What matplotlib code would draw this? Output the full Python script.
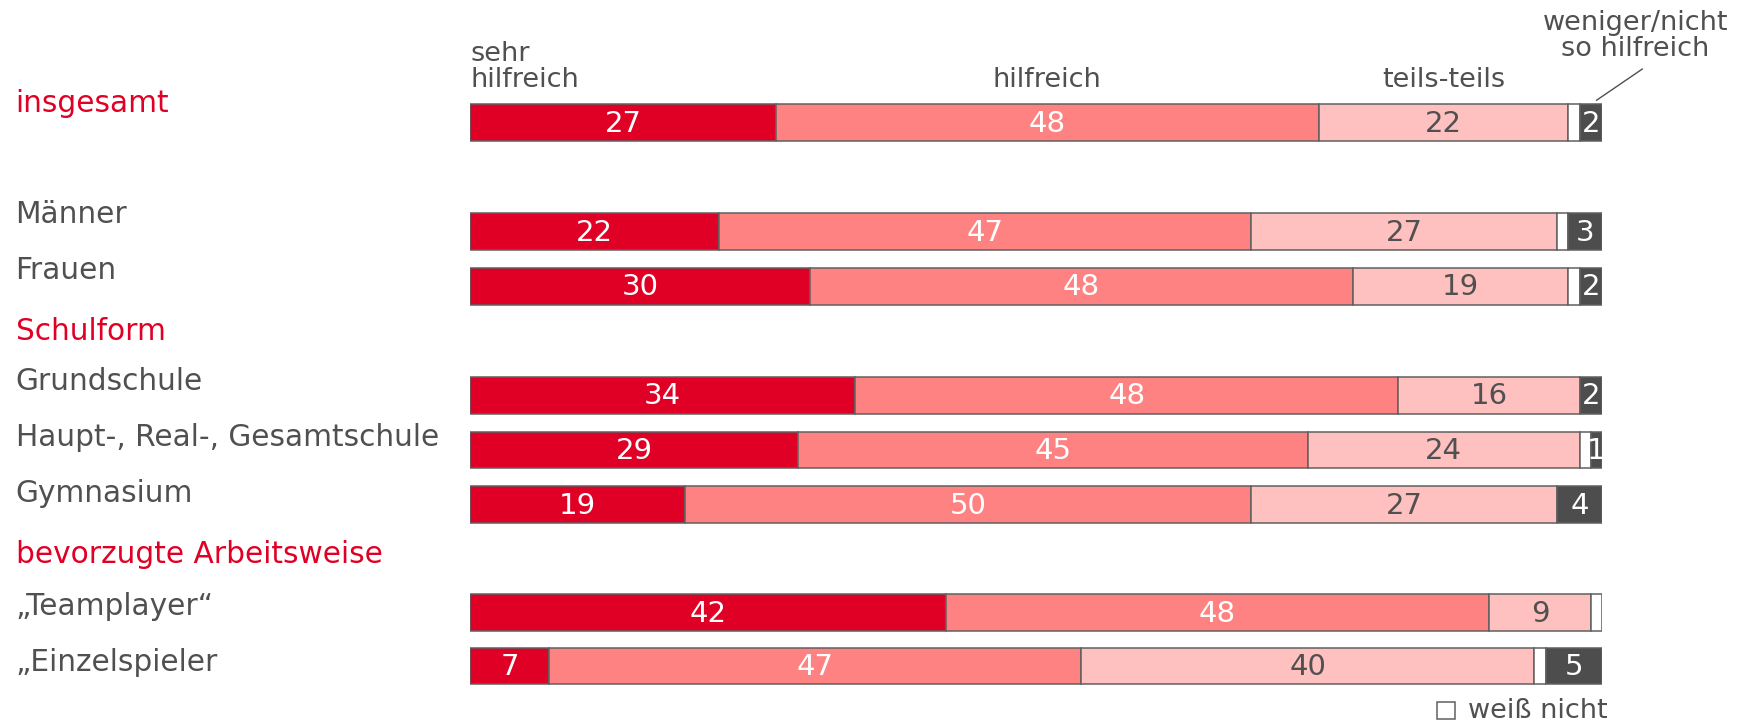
import matplotlib
matplotlib.use("Agg")
import matplotlib.pyplot as plt
from matplotlib.patches import Rectangle

# ---- data ----
rows = ["insgesamt", "Männer", "Frauen", "Grundschule", "Haupt-, Real-, Gesamtschule",
        "Gymnasium", "„Teamplayer“", "„Einzelspieler"]
sehr_hilfreich = [27, 22, 30, 34, 29, 19, 42, 7]
hilfreich = [48, 47, 48, 48, 45, 50, 48, 47]
teils_teils = [22, 27, 19, 16, 24, 27, 9, 40]
weiss_nicht = [1, 1, 1, 0, 1, 0, 1, 1]
weniger = [2, 3, 2, 2, 1, 4, 0, 5]
sections = ["Schulform", "bevorzugte Arbeitsweise"]
series_names = ["sehr\nhilfreich", "hilfreich", "teils-teils", "weiß nicht", "weniger/nicht\nso hilfreich"]

# ---- layout / style (positions in a 1568x651 layout grid) ----
W, H = 1568, 651
bar_y = [110, 208, 257, 355, 404, 453, 550, 598]
label_y = [93, 193, 243, 343, 393, 443, 545, 595]
section_y = [298, 498]
bar_h = 33
RED = "#E00025"
GRAY = "#505050"
colors = ["#E00025", "#FF8282", "#FFC0C0", "#FFFFFF", "#4D4D4D"]
txtcol = ["white", "white", GRAY, GRAY, "white"]
FS_LAB = 21.3
FS_HEAD = 19.5
FS_NUM = 21

plt.rcParams['font.family'] = ['DejaVu Sans']
fig = plt.figure(figsize=(17.47, 7.25), dpi=100)
x0, x1 = 422, 1438
ax = fig.add_axes([x0 / W, 0, (x1 - x0) / W, 1])
ax.set_xlim(0, 100)
ax.set_ylim(H, 0)
ax.axis("off")

series = [sehr_hilfreich, hilfreich, teils_teils, weiss_nicht, weniger]
for i, y in enumerate(bar_y):
    left = 0
    for s, vals in enumerate(series):
        v = vals[i]
        if v <= 0:
            continue
        ax.barh(y, v, left=left, height=bar_h, color=colors[s], edgecolor="#606060",
                linewidth=1.1)
        if s != 3:
            ax.text(left + v / 2, y + 1, str(v), ha="center", va="center",
                    fontsize=FS_NUM, color=txtcol[s])
        left += v

def ftext(px, py, s, **kw):
    fig.text(px / W, 1 - py / H, s, **kw)

for r, y in zip(rows, label_y):
    col = RED if r == "insgesamt" else GRAY
    ftext(14, y, r, fontsize=FS_LAB, color=col, va="center", ha="left")
for s, y in zip(sections, section_y):
    ftext(14, y, s, fontsize=FS_LAB, color=RED, va="center", ha="left")

# series header labels
ftext(422, 60, series_names[0], fontsize=FS_HEAD, color=GRAY, va="center", ha="left",
      linespacing=1.0)
ftext(940, 72, series_names[1], fontsize=FS_HEAD, color=GRAY, va="center", ha="center")
ftext(1296, 72, series_names[2], fontsize=FS_HEAD, color=GRAY, va="center", ha="center")
ftext(1468, 32, series_names[4], fontsize=FS_HEAD, color=GRAY, va="center", ha="center",
      linespacing=1.0)
line = plt.Line2D([1474 / W, 1433 / W], [1 - 62 / H, 1 - 90 / H], color=GRAY,
                  linewidth=1.0, transform=fig.transFigure)
fig.add_artist(line)

# legend for weiß nicht
fig.add_artist(Rectangle((1290 / W, 1 - 646 / H), 16 / W, 16 / H, facecolor="white",
                         edgecolor="#606060", linewidth=1.1, transform=fig.transFigure))
ftext(1318, 638, series_names[3], fontsize=FS_HEAD, color=GRAY, va="center", ha="left")

fig.savefig("out.png", dpi=100, facecolor="white")
